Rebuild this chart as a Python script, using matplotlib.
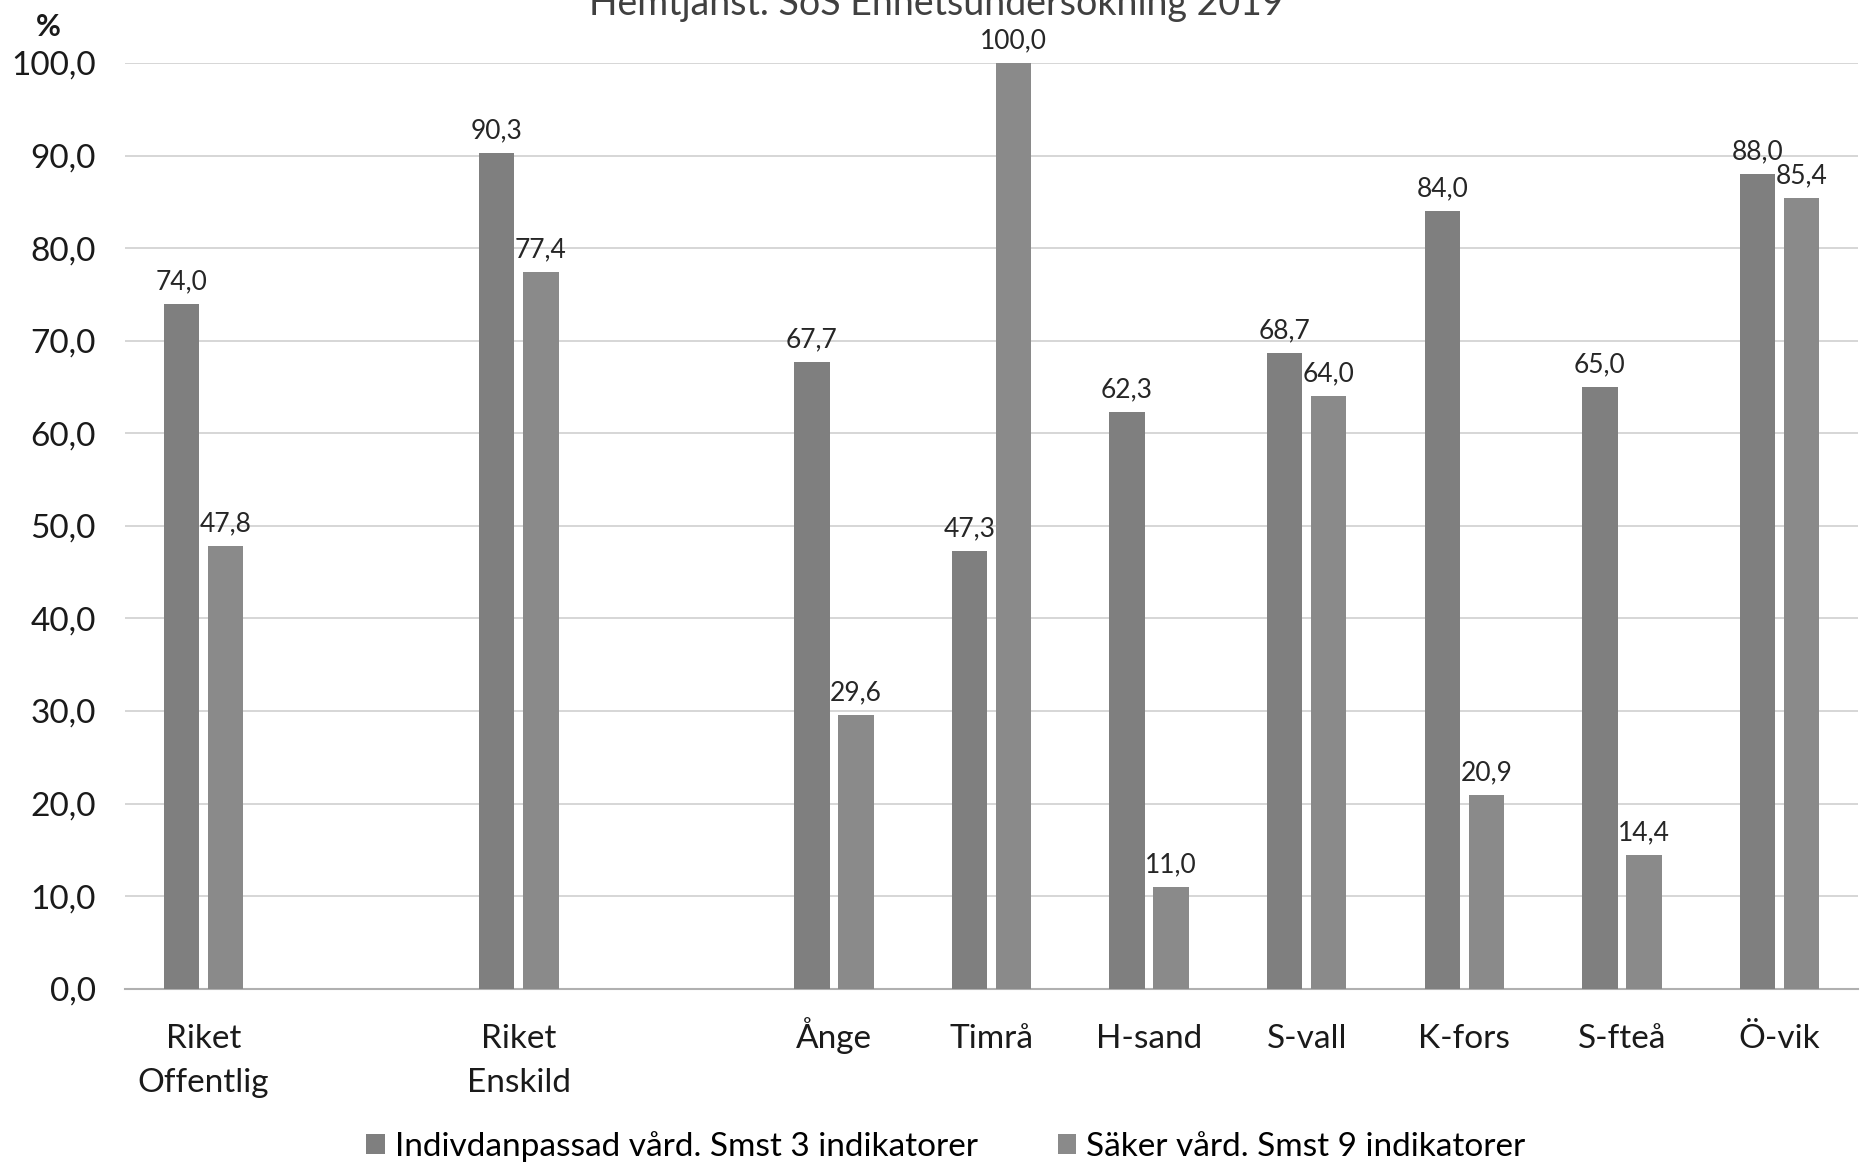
import numpy as np
import matplotlib
matplotlib.use("Agg")
import matplotlib.pyplot as plt

plt.rcParams['font.family'] = ['Lato', 'DejaVu Sans']

# blank entries keep the gaps between the country rows and the municipalities
categories = ["Riket\nOffentlig", "", "Riket\nEnskild", "", "Ånge", "Timrå",
              "H-sand", "S-vall", "K-fors", "S-fteå", "Ö-vik"]
individ = [74.0, np.nan, 90.3, np.nan, 67.7, 47.3, 62.3, 68.7, 84.0, 65.0, 88.0]
saker = [47.8, np.nan, 77.4, np.nan, 29.6, 100.0, 11.0, 64.0, 20.9, 14.4, 85.4]
series_names = ["Indivdanpassad vård. Smst 3 indikatorer",
                "Säker vård. Smst 9 indikatorer"]
yticks = [0, 10, 20, 30, 40, 50, 60, 70, 80, 90, 100]


def fmt(v):
    return f"{v:.1f}".replace(".", ",")


fig = plt.figure(figsize=(18.62, 11.66), dpi=100)
ax = fig.add_axes([0.067, 0.152, 0.931, 0.794])

x = np.arange(len(categories))
w = 0.225
off = 0.14
b1 = ax.bar(x - off, individ, w, color='#7f7f7f', label=series_names[0], zorder=3)
b2 = ax.bar(x + off, saker, w, color='#8a8a8a', label=series_names[1], zorder=3)

for bars, vals in [(b1, individ), (b2, saker)]:
    for rect, v in zip(bars, vals):
        if np.isnan(v):
            continue
        ax.annotate(fmt(v), (rect.get_x() + rect.get_width() / 2, v),
                    xytext=(0, 7), textcoords='offset points',
                    ha='center', va='bottom', fontsize=19, color='#262626')

ax.set_xlim(-0.5, len(categories) - 0.5)
ax.set_ylim(0, 100)
ax.set_yticks(yticks)
ax.set_yticklabels([fmt(v) for v in yticks], fontsize=24, color='#1a1a1a')
ax.set_xticks(x)
ax.set_xticklabels([])
ax.tick_params(axis='both', length=0)
ax.tick_params(axis='y', pad=21)

# category names, each line on its own baseline so "Ånge" lines up with the rest
for xi, name in zip(x, categories):
    for i, line in enumerate(name.split("\n")):
        ax.annotate(line, (xi, 0), xycoords=('data', 'axes fraction'),
                    xytext=(0, -43 - i * 31.5), textcoords='offset points',
                    ha='center', va='baseline', fontsize=24, color='#1a1a1a')

ax.grid(axis='y', color='#d0d0d0', linewidth=1.2, zorder=0)
for s in ['top', 'right', 'left']:
    ax.spines[s].set_visible(False)
ax.spines['bottom'].set_color('#b0b0b0')
ax.spines['bottom'].set_linewidth(1.5)

fig.text(0.026, 0.977, "%", fontsize=22, fontweight='bold', color='#1a1a1a',
         ha='center', va='center')
fig.text(0.503, 0.987, "Hemtjänst. SoS Enhetsundersökning 2019", fontsize=27,
         color='#404040', ha='center', va='baseline')

fig.legend(handles=[b1, b2], loc='lower center', bbox_to_anchor=(0.508, -0.022),
           ncol=2, frameon=False, fontsize=24, handlelength=0.55,
           handleheight=0.55, handletextpad=0.3, columnspacing=2.4)

fig.savefig("out.png", dpi=100)
